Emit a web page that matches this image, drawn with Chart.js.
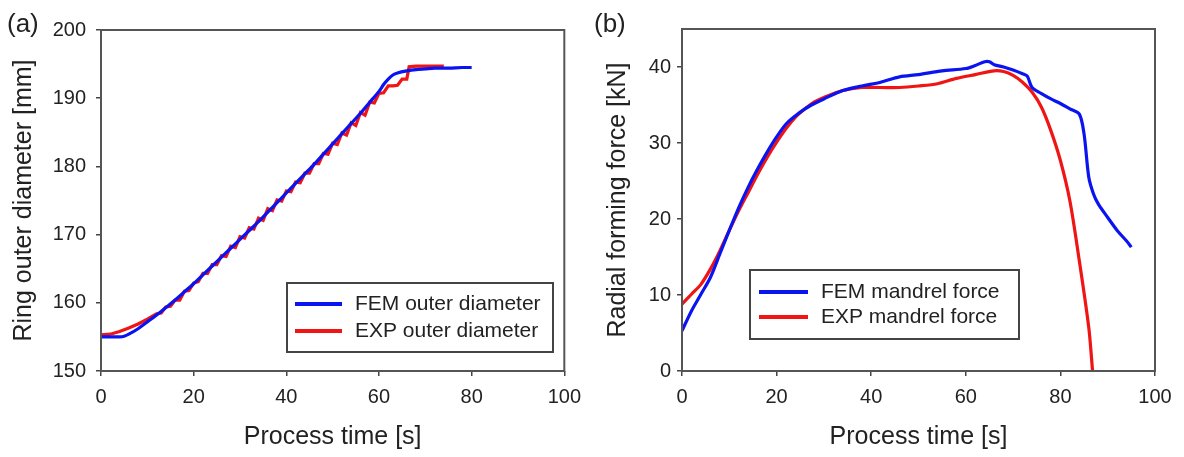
<!DOCTYPE html>
<html>
<head>
<meta charset="utf-8">
<script src="https://cdn.jsdelivr.net/npm/chart.js@4"></script>
<style>
	body { margin: 0; background: #fff; width: 1184px; height: 457px; position: relative; overflow: hidden; }
	.panel { position: absolute; top: 0; height: 457px; }
	.tag { position: absolute; top: 8px; font: 26px 'Liberation Sans', Arial, sans-serif; line-height: 30px; color: #222; }
</style>
</head>
<body>
<div class="panel" style="left:0;width:590px"><canvas id="diameterChart" width="590" height="457"></canvas></div>
<div class="panel" style="left:590px;width:594px"><canvas id="forceChart" width="594" height="457"></canvas></div>
<div class="tag" style="left:7px">(a)</div>
<div class="tag" style="left:594px">(b)</div>
<script>
// (a) ring outer diameter, [time s, diameter mm]
const femDiameter = [
	[0,155.0],[2,155.0],[4,155.0],[5,155.1],[6,155.4],[8,156.2],[10,157.2],[12,158.2],[14,159.3],
	[16,160.4],[18,161.6],[20,162.8],[22,164.1],[24,165.4],[26,166.7],[28,168.0],[30,169.3],
	[32,170.6],[34,171.9],[36,173.3],[38,174.7],[40,176.1],[42,177.5],[44,178.9],[46,180.3],
	[48,181.8],[50,183.3],[52,184.8],[54,186.3],[56,187.8],[58,189.4],[60,191.0],[61,192.0],
	[62,192.8],[63,193.4],[64,193.7],[66,194.0],[68,194.2],[70,194.3],[72,194.4],[75,194.4],
	[78,194.5],[80,194.5]
];
const expDiameter = [
	[0,155.3],[2,155.4],[4,155.8],[6,156.3],[8,156.9],[10,157.6],[12,158.4],[13,158.5],[14,159.4],
	[15,159.5],[16,160.4],[17,160.4],[18,161.7],[19,161.8],[20,162.9],[21,163.1],[22,164.3],
	[23,164.3],[24,165.6],[25,165.6],[26,166.9],[27,166.8],[28,168.3],[29,168.1],[30,169.7],
	[31,169.5],[32,171.0],[33,170.8],[34,172.4],[35,172.1],[36,173.8],[37,173.5],[38,175.1],
	[39,174.9],[40,176.4],[41,176.3],[42,177.7],[43,177.6],[44,179.0],[45,179.0],[46,180.4],
	[47,180.4],[48,181.9],[49,181.8],[50,183.4],[51,183.2],[52,184.9],[53,184.6],[54,186.4],
	[55,186.0],[56,187.9],[57,187.5],[58,189.4],[59,189.3],[60,190.7],[61,190.8],[62,191.8],
	[63,191.8],[64,191.9],[65,192.8],[66,192.8],[66.5,194.6],[68,194.7],[70,194.7],[74,194.7]
];
// (b) radial forming force, [time s, force kN]
const femForce = [
	[0,5.3],[2,7.9],[4,10.1],[6,12.3],[8,15.4],[10,18.5],[12,21.5],[14,24.2],[16,26.6],[18,28.8],
	[20,30.8],[22,32.5],[24,33.6],[26,34.5],[28,35.2],[30,35.8],[34,36.9],[38,37.5],[42,38.0],
	[46,38.7],[50,39.0],[55,39.5],[60,39.8],[62,40.2],[64,40.7],[65,40.7],[66,40.3],[68,40.0],
	[70,39.6],[72,39.1],[73,38.8],[74,37.3],[76,36.5],[78,35.8],[80,35.2],[82,34.5],[84,33.8],
	[85,31.2],[86,25.5],[87,23.3],[88,22.0],[90,20.2],[92,18.5],[94,17.1],[95,16.3]
];
const expForce = [
	[0,8.8],[2,10.1],[4,11.4],[6,13.4],[8,15.8],[10,18.5],[12,21.1],[14,23.5],[16,25.9],[18,28.1],
	[20,30.1],[22,31.9],[24,33.4],[26,34.5],[28,35.4],[30,36.0],[34,36.9],[38,37.3],[42,37.3],
	[46,37.3],[50,37.5],[54,37.8],[58,38.5],[62,39.0],[66,39.5],[68,39.4],[70,38.9],[72,38.0],
	[74,36.7],[76,34.7],[78,31.6],[80,27.7],[82,22.4],[84,14.5],[86,5.7],[86.8,0]
];
const timeTicks = [0, 20, 40, 60, 80, 100];

const FONT = "'Liberation Sans', Arial, sans-serif";
const BLUE = '#0a14f0';
const RED = '#f01414';

function toPoints(arr) {
	return arr.map(function(p) { return {x: p[0], y: p[1]}; });
}

// box around plot area + legend inside it
const framePlugin = {
	id: 'frame',
	afterDraw(chart, args, opts) {
		const ctx = chart.ctx;
		const a = chart.chartArea;
		ctx.save();
		ctx.strokeStyle = '#555';
		ctx.lineWidth = 2;
		ctx.strokeRect(a.left, a.top, a.right - a.left, a.bottom - a.top);
		// legend box
		const lg = opts.legend;
		ctx.strokeStyle = '#444';
		ctx.lineWidth = 2;
		ctx.strokeRect(lg.x, lg.y, lg.w, lg.h);
		ctx.font = lg.fontSize + 'px ' + FONT;
		ctx.textBaseline = 'middle';
		ctx.fillStyle = '#222';
		chart.data.datasets.forEach(function(ds, i) {
			const ry = lg.y + lg.rowTop + i * lg.rowGap;
			ctx.strokeStyle = ds.borderColor;
			ctx.lineWidth = 4;
			ctx.beginPath();
			ctx.moveTo(lg.x + lg.lineX, ry);
			ctx.lineTo(lg.x + lg.lineX + lg.lineW, ry);
			ctx.stroke();
			ctx.fillText(ds.label, lg.x + lg.textX, ry);
		});
		ctx.restore();
	}
};

function makeChart(id, datasets, yOpts, layout) {
	return new Chart(document.getElementById(id), {
		type: 'line',
		data: { datasets: datasets },
		plugins: [framePlugin],
		options: {
			responsive: false,
			animation: false,
			events: [],
			layout: { padding: { left: 0, top: layout.top, right: layout.right, bottom: 0 } },
			plugins: {
				legend: { display: false },
				tooltip: { enabled: false },
				frame: { legend: layout.legend }
			},
			elements: { point: { radius: 0 }, line: { borderWidth: 3.2, tension: 0.3 } },
			scales: {
				x: {
					type: 'linear', min: 0, max: 100,
					afterBuildTicks: function(s) { s.ticks = timeTicks.map(function(v) { return {value: v}; }); },
					afterFit: function(s) { s.height = 457 - layout.bottom; },
					border: { display: false },
					grid: { drawOnChartArea: false, drawTicks: true, tickLength: 5, color: '#444', lineWidth: 1.5 },
					ticks: { font: { family: FONT, size: 20 }, color: '#222', padding: 9, maxRotation: 0 },
					title: { display: true, text: 'Process time [s]', color: '#222',
						font: { family: FONT, size: 25, lineHeight: 1.2 }, padding: { top: 0, bottom: 5 } }
				},
				y: {
					type: 'linear', min: yOpts.min, max: yOpts.max,
					afterBuildTicks: function(s) { s.ticks = yOpts.ticks.map(function(v) { return {value: v}; }); },
					afterFit: function(s) { s.width = layout.left; },
					border: { display: false },
					grid: { drawOnChartArea: false, drawTicks: true, tickLength: 5, color: '#444', lineWidth: 1.5 },
					ticks: { font: { family: FONT, size: 20 }, color: '#222', padding: yOpts.tickPad },
					title: { display: true, text: yOpts.title, color: '#222',
						font: { family: FONT, size: 25, lineHeight: 1.2 }, padding: { top: yOpts.titlePad, bottom: 0 } }
				}
			}
		}
	});
}

makeChart('diameterChart', [
	{ label: 'FEM outer diameter', data: toPoints(femDiameter), borderColor: BLUE, tension: 0.3 },
	{ label: 'EXP outer diameter', data: toPoints(expDiameter), borderColor: RED, tension: 0 }
], { min: 150, max: 200, ticks: [150, 160, 170, 180, 190, 200], title: 'Ring outer diameter [mm]', tickPad: 10, titlePad: 9 },
{ left: 101, top: 30, right: 17, bottom: 371,
	legend: { x: 287, y: 283, w: 266, h: 69, rowTop: 21, rowGap: 27, lineX: 8, lineW: 47, textX: 68, fontSize: 21 } });

makeChart('forceChart', [
	{ label: 'FEM mandrel force', data: toPoints(femForce), borderColor: BLUE },
	{ label: 'EXP mandrel force', data: toPoints(expForce), borderColor: RED }
], { min: 0, max: 45, ticks: [0, 10, 20, 30, 40], title: 'Radial forming force [kN]', tickPad: 6, titlePad: 13 },
{ left: 92, top: 29, right: 29, bottom: 371,
	legend: { x: 160, y: 270, w: 269, h: 69, rowTop: 22, rowGap: 25, lineX: 9, lineW: 49, textX: 71, fontSize: 21 } });
</script>
</body>
</html>
